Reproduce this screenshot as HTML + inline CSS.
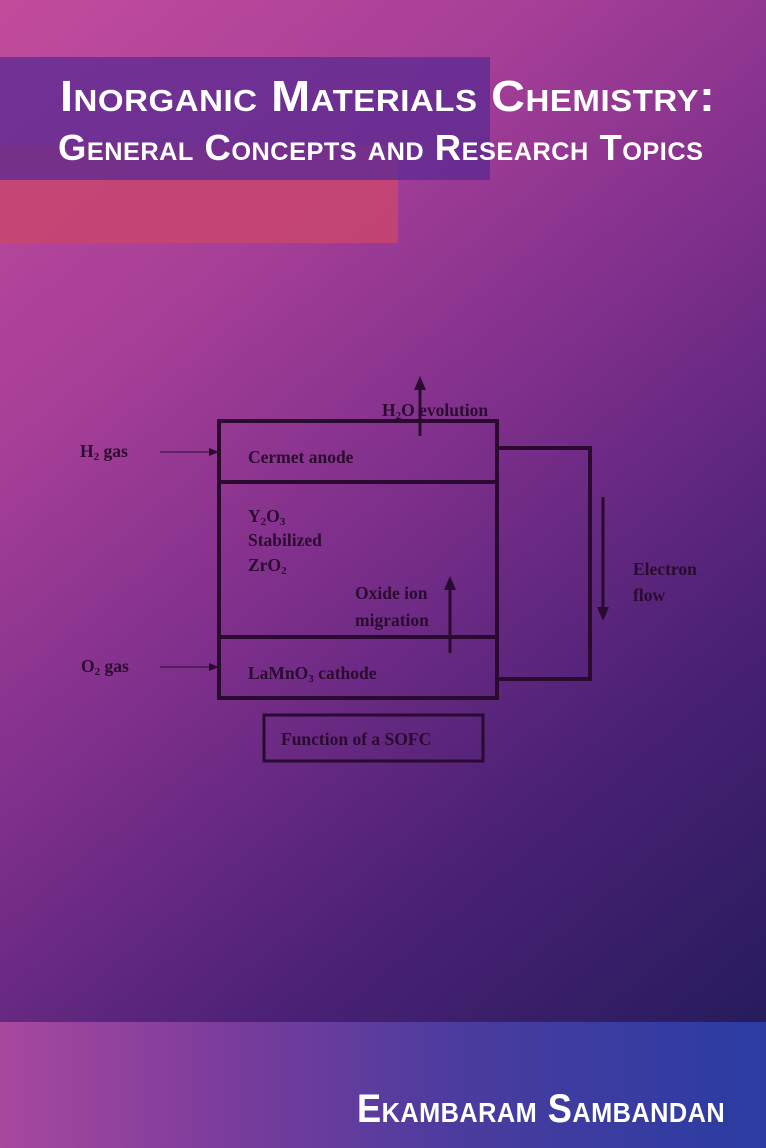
<!DOCTYPE html>
<html><head><meta charset="utf-8"><style>
html,body{margin:0;padding:0}
body{width:766px;height:1148px;position:relative;overflow:hidden;
background:linear-gradient(140deg,#c24c9c 0%,#a73f98 25%,#7a2e8a 48%,#4a2175 70%,#1c1a55 100%);}
.abs{position:absolute}
.t{font-family:"Liberation Sans Narrow","Liberation Sans",sans-serif;font-weight:bold;color:#fff;font-variant:small-caps;white-space:nowrap;transform-origin:0 0;letter-spacing:0.5px}
</style></head><body>
<div class="abs" style="left:0;top:145px;width:398px;height:98px;background:#c8456e;opacity:.85"></div>
<div class="abs" style="left:0;top:57px;width:490px;height:123px;background:#5a2a92;opacity:.75"></div>
<div class="abs t" style="left:60px;top:72px;font-size:44px;transform:scaleX(1.065)">Inorganic Materials Chemistry:</div>
<div class="abs t" style="left:58px;top:127px;font-size:36px;transform:scaleX(1.012)">General Concepts and Research Topics</div>

<svg class="abs" style="left:0;top:0" width="766" height="1022" viewBox="0 0 766 1022">
<g stroke="#2a0a2e" fill="none" stroke-width="4">
<rect x="219" y="421" width="278" height="277"/>
<line x1="219" y1="482" x2="497" y2="482"/>
<line x1="219" y1="637" x2="497" y2="637"/>
<polyline points="497,448 590,448 590,679 497,679"/>
<rect x="264" y="715" width="219" height="46" stroke-width="3"/>
<line x1="420" y1="388" x2="420" y2="436" stroke-width="3"/>
<line x1="450" y1="588" x2="450" y2="653" stroke-width="3"/>
<line x1="603" y1="497" x2="603" y2="608" stroke-width="3"/>
<line x1="160" y1="452" x2="210" y2="452" stroke-width="1"/>
<line x1="160" y1="667" x2="210" y2="667" stroke-width="1"/>
</g>
<g fill="#2a0a2e">
<polygon points="420,376 414,390 426,390"/>
<polygon points="450,576 444,590 456,590"/>
<polygon points="603,621 597,607 609,607"/>
<polygon points="219,452 209,448 209,456"/>
<polygon points="219,667 209,663 209,671"/>
</g>
<g font-family="Liberation Serif,serif" font-size="17.5" font-weight="bold" fill="#2a0a2e">
<text x="382" y="416">H<tspan font-size="11" dy="3">2</tspan><tspan dy="-3">O evolution</tspan></text>
<text x="80" y="457">H<tspan font-size="11" dy="3">2</tspan><tspan dy="-3"> gas</tspan></text>
<text x="81" y="672">O<tspan font-size="11" dy="3">2</tspan><tspan dy="-3"> gas</tspan></text>
<text x="248" y="463">Cermet anode</text>
<text x="248" y="522">Y<tspan font-size="11" dy="3">2</tspan><tspan dy="-3">O</tspan><tspan font-size="11" dy="3">3</tspan></text>
<text x="248" y="546">Stabilized</text>
<text x="248" y="571">ZrO<tspan font-size="11" dy="3">2</tspan></text>
<text x="355" y="599">Oxide ion</text>
<text x="355" y="626">migration</text>
<text x="248" y="679">LaMnO<tspan font-size="11" dy="3">3</tspan><tspan dy="-3"> cathode</tspan></text>
<text x="633" y="575">Electron</text>
<text x="633" y="601">flow</text>
<text x="281" y="745">Function of a SOFC</text>
</g>
</svg>

<div class="abs" style="left:0;top:1022px;width:766px;height:126px;background:linear-gradient(90deg,#a8489e 0%,#7a3c9c 30%,#4a3c9e 60%,#2a3ca2 100%)"></div>
<div class="abs t" style="left:357px;top:1087px;font-size:40px;transform:scaleX(0.905)">Ekambaram Sambandan</div>
</body></html>
